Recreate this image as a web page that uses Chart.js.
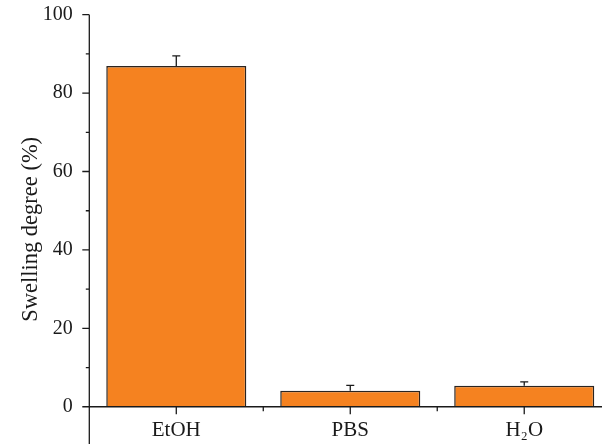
<!DOCTYPE html>
<html>
<head>
<meta charset="utf-8">
<script src="https://cdn.jsdelivr.net/npm/chart.js@4"></script>
<style>
  html, body { margin: 0; padding: 0; background: #fff; }
  #wrap { width: 602px; height: 444px; }
</style>
</head>
<body>
<div id="wrap"><canvas id="myChart" width="602" height="444"></canvas></div>
<script>
const categories = ["EtOH", "PBS", "H\u2082O"];
const swelling = [86.9, 4.1, 5.35];
const swellingErr = [2.6, 1.35, 1.0];
const yTicks = [0, 20, 40, 60, 80, 100];
const yMinorTicks = [10, 30, 50, 70, 90];

const serif = "'Liberation Serif', 'DejaVu Serif', serif";
const ink = "#1a1a1a";

// axes, tick marks and error bars drawn by hand so the Origin look stays
const axesAndErrors = {
  id: "axesAndErrors",
  afterDatasetsDraw(chart) {
    const { ctx, scales: { x, y }, chartArea } = chart;
    const y0 = y.getPixelForValue(0);
    ctx.save();
    ctx.strokeStyle = ink;
    ctx.lineWidth = 1.3;

    // error bars (upper half only)
    const meta = chart.getDatasetMeta(0);
    meta.data.forEach((bar, i) => {
      const top = y.getPixelForValue(swelling[i] + swellingErr[i]);
      ctx.beginPath();
      ctx.moveTo(bar.x, bar.y);
      ctx.lineTo(bar.x, top);
      ctx.moveTo(bar.x - 4, top);
      ctx.lineTo(bar.x + 4, top);
      ctx.stroke();
    });

    // y axis
    const ax = chartArea.left;
    ctx.beginPath();
    ctx.moveTo(ax, chartArea.top);
    ctx.lineTo(ax, chart.height);
    yTicks.forEach(v => {
      const p = y.getPixelForValue(v);
      ctx.moveTo(ax - 7, p);
      ctx.lineTo(ax, p);
    });
    yMinorTicks.forEach(v => {
      const p = y.getPixelForValue(v);
      ctx.moveTo(ax - 3.5, p);
      ctx.lineTo(ax, p);
    });
    // x axis
    ctx.moveTo(ax - 7, y0);
    ctx.lineTo(chart.width, y0);
    categories.forEach((c, i) => {
      const p = x.getPixelForValue(i + 1);
      ctx.moveTo(p, y0);
      ctx.lineTo(p, y0 + 7.5);
    });
    [1.5, 2.5].forEach(v => {
      const p = x.getPixelForValue(v);
      ctx.moveTo(p, y0);
      ctx.lineTo(p, y0 + 4.5);
    });
    ctx.stroke();
    ctx.restore();
  },
};

const ctx = document.getElementById("myChart").getContext("2d");

new Chart(ctx, {
  type: "bar",
  data: {
    datasets: [
      {
        data: swelling.map((v, i) => ({ x: i + 1, y: v })),
        backgroundColor: "#F58220",
        borderColor: "#2a2420",
        borderWidth: 1.5,
        categoryPercentage: 0.805,
        barPercentage: 1,
      },
    ],
  },
  options: {
    responsive: false,
    animation: false,
    devicePixelRatio: 1,
    layout: { padding: { top: 14.7, right: 0, bottom: 0, left: 0 } },
    scales: {
      x: {
        type: "linear",
        position: { y: 0 },
        min: 0.5,
        max: 3.447,
        offset: false,
        grid: { display: false },
        border: { display: false },
        afterBuildTicks: s => { s.ticks = categories.map((c, i) => ({ value: i + 1 })); },
        ticks: {
          autoSkip: false,
          maxRotation: 0,
          padding: 3.5,
          color: ink,
          font: { family: serif, size: 21 },
          callback: v => categories[v - 1],
        },
      },
      y: {
        min: -9.5,
        max: 100,
        grid: { display: false },
        border: { display: false },
        afterBuildTicks: s => { s.ticks = yTicks.map(v => ({ value: v })); },
        afterFit: s => {
          s.width = 89.3;
          s.paddingBottom = 0;
          s.paddingTop = 0;
        },
        ticks: {
          padding: 8.5,
          color: ink,
          font: { family: serif, size: 20 },
        },
        title: {
          display: true,
          text: "Swelling degree (%)",
          color: ink,
          font: { family: serif, size: 22.5 },
          padding: { top: 18, bottom: 0 },
        },
      },
    },
    plugins: {
      legend: { display: false },
      tooltip: { enabled: false },
    },
  },
  plugins: [axesAndErrors],
});
</script>
</body>
</html>
